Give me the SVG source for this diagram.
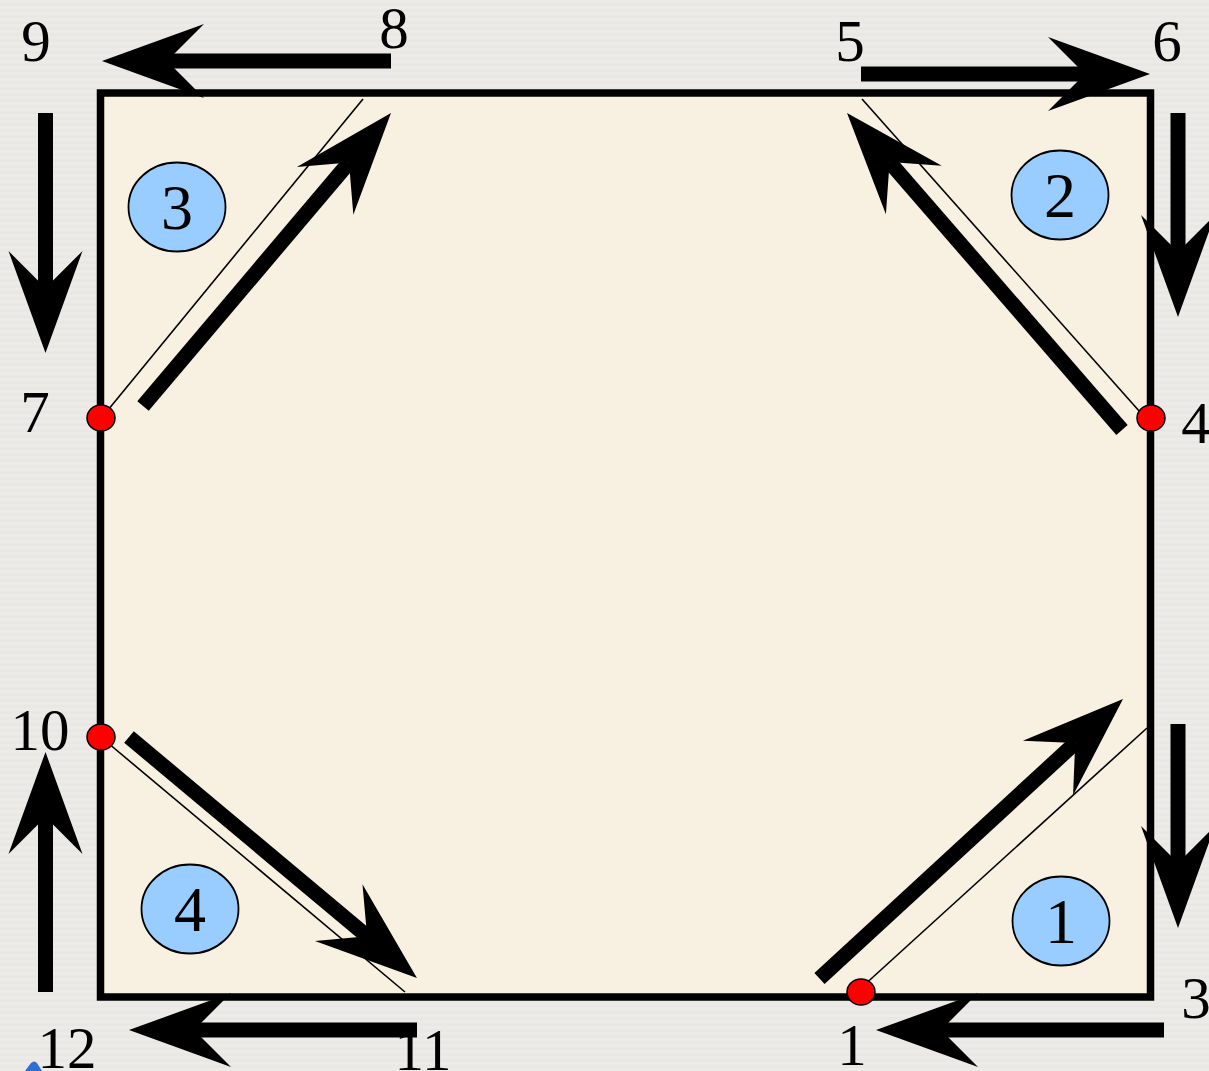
<svg xmlns="http://www.w3.org/2000/svg" width="1209" height="1071" viewBox="0 0 1209 1071">
<style>
.lbl{font-family:"Liberation Serif","Times New Roman",serif;font-size:59px;fill:#000;text-anchor:middle}
.num{font-family:"Liberation Serif","Times New Roman",serif;font-size:64px;fill:#000;text-anchor:middle}
.arr{stroke:#000;stroke-width:15;fill:none;stroke-linecap:butt;marker-end:url(#head)}
.thin{stroke:#000;stroke-width:1.6;fill:none}
.dot{fill:#FF0000;stroke:#000;stroke-width:1.5}
.badge{fill:#99CCFF;stroke:#000;stroke-width:1.8}
</style>
<defs>
<pattern id="stripes" width="10" height="6" patternUnits="userSpaceOnUse">
<rect width="10" height="6" fill="#EDEBE8"/>
<rect y="3" width="10" height="3" fill="#EAE8E4"/>
</pattern>
<marker id="head" markerUnits="userSpaceOnUse" viewBox="-110 -40 115 80" markerWidth="115" markerHeight="80" refX="-65" refY="0" orient="auto">
<path d="M0,0 L-102,-37 L-65,0 L-102,37 Z" fill="#000"/>
</marker>
</defs>
<rect width="1209" height="1071" fill="url(#stripes)"/>
<g id="frame">
<rect x="100.5" y="93" width="1050" height="904" fill="#F8F0E1" stroke="#000" stroke-width="7.5"/>
</g>
<g id="guides">
<line class="thin" x1="108" y1="410" x2="363" y2="99"/>
<line class="thin" x1="862" y1="99" x2="1140" y2="412"/>
<line class="thin" x1="861" y1="988" x2="1147" y2="728"/>
<line class="thin" x1="108" y1="743" x2="405" y2="992"/>
</g>
<g id="connectors">
<line class="arr" x1="391" y1="61" x2="167" y2="61"/>
<line class="arr" x1="861" y1="74" x2="1085" y2="74"/>
<line class="arr" x1="1178" y1="113" x2="1178" y2="252"/>
<line class="arr" x1="45.5" y1="113" x2="45.5" y2="288"/>
<line class="arr" x1="1178" y1="724" x2="1178" y2="863"/>
<line class="arr" x1="1164" y1="1030" x2="941" y2="1030"/>
<line class="arr" x1="417" y1="1030" x2="194" y2="1030"/>
<line class="arr" x1="45.5" y1="992" x2="45.5" y2="817"/>
<line class="arr" x1="143" y1="406" x2="349" y2="162.6"/>
<line class="arr" x1="1122" y1="430" x2="889.6" y2="162.1"/>
<line class="arr" x1="819.5" y1="978.5" x2="1075.2" y2="743"/>
<line class="arr" x1="129" y1="737" x2="367.1" y2="936.3"/>
</g>
<g id="points">
<ellipse class="dot" cx="101" cy="418" rx="14" ry="13"/>
<ellipse class="dot" cx="1151" cy="418" rx="14" ry="13"/>
<ellipse class="dot" cx="861" cy="992" rx="14" ry="13"/>
<ellipse class="dot" cx="101" cy="737" rx="14" ry="13"/>
</g>
<g id="region1">
<ellipse class="badge" cx="1061" cy="921" rx="48.5" ry="44.5"/>
<text class="num" x="1061" y="943">1</text>
</g>
<g id="region2">
<ellipse class="badge" cx="1060" cy="195" rx="48.5" ry="44.5"/>
<text class="num" x="1060" y="217">2</text>
</g>
<g id="region3">
<ellipse class="badge" cx="177" cy="207" rx="48.5" ry="44.5"/>
<text class="num" x="177" y="229">3</text>
</g>
<g id="region4">
<ellipse class="badge" cx="190" cy="909" rx="48.5" ry="44.5"/>
<text class="num" x="190" y="931">4</text>
</g>
<g id="labels">
<text class="lbl" x="36" y="61">9</text>
<text class="lbl" x="394" y="48">8</text>
<text class="lbl" x="850" y="61">5</text>
<text class="lbl" x="1167" y="61">6</text>
<text class="lbl" x="35" y="432">7</text>
<text class="lbl" x="1196" y="443">4</text>
<text class="lbl" x="40" y="750">10</text>
<text class="lbl" x="67" y="1068">12</text>
<text class="lbl" x="423" y="1070">11</text>
<text class="lbl" x="852" y="1065">1</text>
<text class="lbl" x="1196" y="1018">3</text>
</g>
<path d="M25,1071 L31,1063 Q34,1060 37,1063 L42,1071 Z" fill="#2F6FD0"/>
</svg>
